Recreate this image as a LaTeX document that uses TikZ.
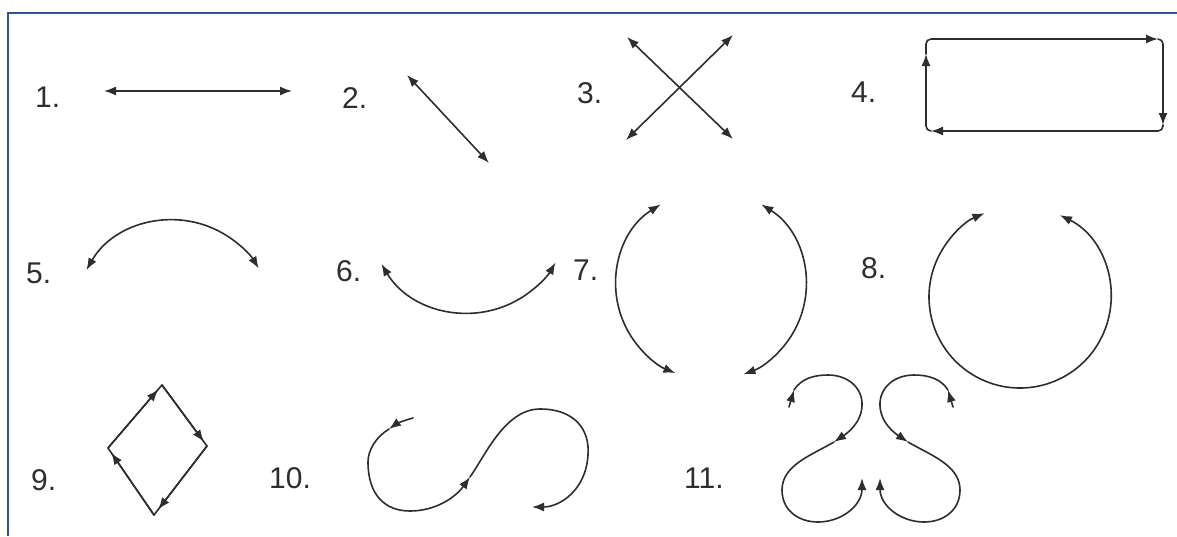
\documentclass[tikz,border=0pt]{standalone}
\usepackage{fontspec}
\setmainfont{Liberation Sans}
\usetikzlibrary{arrows.meta,calc}
\definecolor{frameblue}{HTML}{2F5597}
\definecolor{ink}{HTML}{2E2E2E}
\begin{document}
\begin{tikzpicture}[x=1pt,y=-1pt,
  ln/.style={draw=ink, line width=1.6pt, line cap=round, line join=round},
  tip/.style={-{Latex[length=12pt,width=9pt]}},
  dbl/.style={{Latex[length=12pt,width=9pt]}-{Latex[length=12pt,width=9pt]}},
  lbl/.style={anchor=base west, inner sep=0pt, text=ink, font=\fontsize{30}{30}\selectfont}]
\useasboundingbox (0,0) rectangle (1177,536);
\fill[white] (0,0) rectangle (1177,536);
\draw[frameblue, line width=2pt] (1177,12.5) -- (8,12.5) -- (8,536);

% labels
\node[lbl] (l1) at (35,107) {1.};
\node[lbl] (l2) at (342,108) {2.};
\node[lbl] (l3) at (577,103) {3.};
\node[lbl] (l4) at (851,102) {4.};
\node[lbl] (l5) at (26,283) {5.};
\node[lbl] (l6) at (336,281) {6.};
\node[lbl] (l7) at (573,280) {7.};
\node[lbl] (l8) at (861,278) {8.};
\node[lbl] (l9) at (31,490) {9.};
\node[lbl] (l10) at (269,488) {10.};
\node[lbl] (l11) at (684,488) {11.};

% 1
\coordinate (a1) at (104,91); \coordinate (b1) at (292,91);
\draw[ln,dbl] (a1) -- (b1);
% 2
\coordinate (a2) at (407,75); \coordinate (b2) at (489,163);
\draw[ln,dbl] (a2) -- (b2);
% 3
\coordinate (a3) at (627,37); \coordinate (b3) at (733,139);
\coordinate (c3) at (733,35); \coordinate (d3) at (626,140);
\draw[ln,dbl] (a3) -- (b3);
\draw[ln,dbl] (c3) -- (d3);
% 4
\draw[ln,tip,rounded corners=5] (926,54) -- (926,39) -- (1158,39);
\draw[ln,tip,rounded corners=5] (1158,39) -- (1163,39) -- (1163,125);
\draw[ln,tip,rounded corners=5] (1163,125) -- (1163,131) -- (931,131);
\draw[ln,tip,rounded corners=5] (931,131) -- (926,131) -- (926,54);
% 5
\coordinate (c5) at (173,320);
\draw[ln,dbl] (c5) ++(210:100) arc[start angle=210,end angle=329,radius=100];
% 6
\coordinate (c6) at (468,212);
\draw[ln,dbl] (c6) ++(149:101) arc[start angle=149,end angle=30,radius=101];
% 7
\coordinate (c7) at (711,285);
\draw[ln,dbl] (c7) ++(238:95) arc[start angle=238,end angle=112,radius=95];
\draw[ln,dbl] (c7) ++(-58:95) arc[start angle=-58,end angle=70,radius=95];
% 8
\coordinate (c8) at (1020,297);
\draw[ln,dbl] (c8) ++(-64:91) arc[start angle=-64,end angle=247,radius=91];
% 9
\coordinate (T9) at (162,385); \coordinate (R9) at (207,446);
\coordinate (B9) at (154,515); \coordinate (L9) at (108,448);
\draw[ln] (T9) -- (R9) -- (B9) -- (L9) -- cycle;
\draw[ln,tip] (L9) -- ($(L9)!0.93!(T9)$);
\draw[ln,tip] (T9) -- ($(T9)!0.93!(R9)$);
\draw[ln,tip] (R9) -- ($(R9)!0.92!(B9)$);
\draw[ln,tip] (B9) -- ($(B9)!0.93!(L9)$);
% 10
\coordinate (s10) at (413,418); \coordinate (h10a) at (389,429);
\coordinate (h10b) at (470,477); \coordinate (e10) at (532,507);
\draw[ln,tip] (s10) .. controls (405,420) and (396,424) .. (h10a);
\draw[ln,tip] (h10a) .. controls (376,437) and (368,450) .. (368,462)
  .. controls (368,495) and (385,511) .. (410,511)
  .. controls (435,511) and (455,498) .. (h10b);
\draw[ln,tip] (h10b) .. controls (485,456) and (505,409) .. (540,409)
  .. controls (575,409) and (590,430) .. (588,455)
  .. controls (586,490) and (560,507) .. (e10);
% 11 left
\coordinate (s11) at (789,407); \coordinate (h11a) at (794,390);
\coordinate (h11b) at (834,442); \coordinate (e11) at (862,478);
\draw[ln,tip] (s11) -- (h11a);
\draw[ln,tip] (h11a) .. controls (801,379) and (813,375) .. (828,375)
  .. controls (848,375) and (863,388) .. (862,406)
  .. controls (861,424) and (846,434) .. (h11b);
\draw[ln,tip] (h11b) .. controls (812,455) and (782,465) .. (782,490)
  .. controls (782,510) and (798,522) .. (818,522)
  .. controls (842,522) and (862,505) .. (e11);
% 11 right
\coordinate (s11r) at (953,407); \coordinate (h11ar) at (948,390);
\coordinate (h11br) at (908,442); \coordinate (e11r) at (880,478);
\draw[ln,tip] (s11r) -- (h11ar);
\draw[ln,tip] (h11ar) .. controls (941,379) and (929,375) .. (914,375)
  .. controls (894,375) and (879,388) .. (880,406)
  .. controls (881,424) and (896,434) .. (h11br);
\draw[ln,tip] (h11br) .. controls (930,455) and (960,465) .. (960,490)
  .. controls (960,510) and (944,522) .. (924,522)
  .. controls (900,522) and (880,505) .. (e11r);
\end{tikzpicture}
\end{document}
